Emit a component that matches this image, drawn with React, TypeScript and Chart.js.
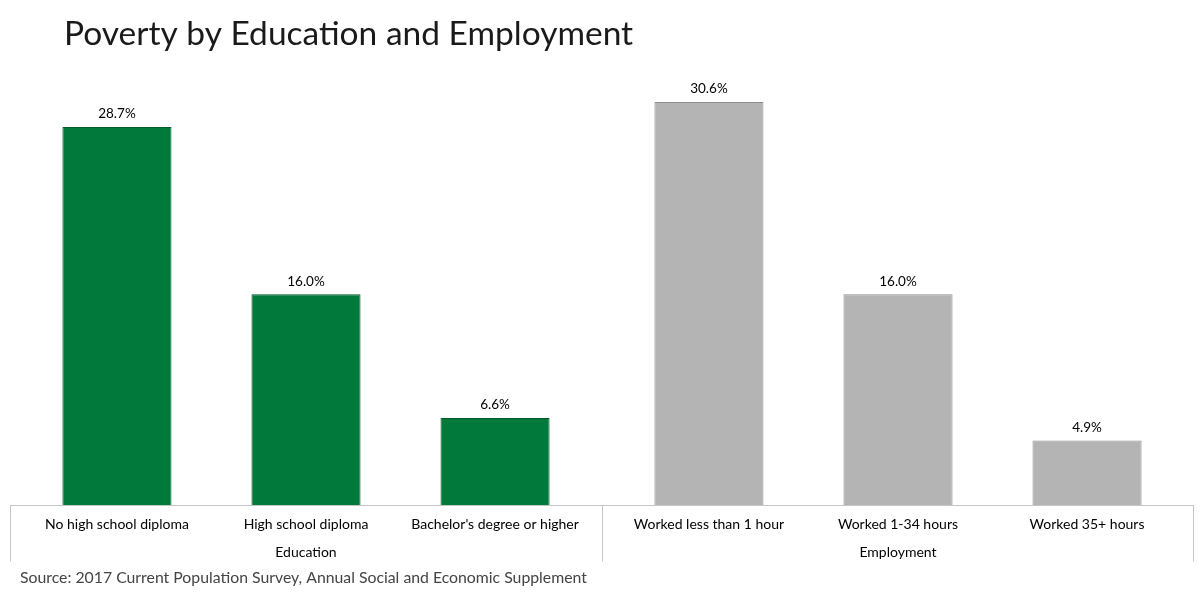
import React, { useEffect, useRef } from "react";
import { Chart, registerables } from "chart.js";

Chart.register(...registerables);

const TITLE = "Poverty by Education and Employment";
const SOURCE = "Source: 2017 Current Population Survey, Annual Social and Economic Supplement";
const groups = ["Education", "Employment"];
const educationLabels = ["No high school diploma", "High school diploma", "Bachelor's degree or higher"];
const employmentLabels = ["Worked less than 1 hour", "Worked 1-34 hours", "Worked 35+ hours"];
const educationValues = [28.7, 16.0, 6.6];
const employmentValues = [30.6, 16.0, 4.9];
const groupFills = ["#00793a", "#b4b4b4"];
const groupBorders = ["#005c2b", "#8f8f8f"];

const subLabels = [educationLabels, employmentLabels];
const subValues = [educationValues, employmentValues];

const FONT = "Lato, 'Open Sans', sans-serif";

const decorPlugin = {
  id: "decor",
  afterDraw(chart: any) {
    const { ctx, chartArea, scales } = chart;
    const x = scales.x;
    const y = scales.y;
    ctx.save();
    // frame
    ctx.strokeStyle = "#c6c6c6";
    ctx.lineWidth = 1;
    const base = Math.round(y.getPixelForValue(0)) + 0.5;
    const bottom = base + 56;
    ctx.beginPath();
    ctx.moveTo(chartArea.left, base);
    ctx.lineTo(chartArea.right, base);
    const seps: number[] = [chartArea.left + 0.5];
    for (let i = 1; i < groups.length; i++) {
      seps.push(Math.round((x.getPixelForTick(i - 1) + x.getPixelForTick(i)) / 2) + 0.5);
    }
    seps.push(chartArea.right - 0.5);
    seps.forEach((sx) => {
      ctx.moveTo(sx, base);
      ctx.lineTo(sx, bottom);
    });
    ctx.stroke();

    ctx.fillStyle = "#000";
    ctx.textAlign = "center";
    ctx.textBaseline = "middle";
    chart.data.datasets.forEach((ds: any, di: number) => {
      const meta = chart.getDatasetMeta(di);
      meta.data.forEach((bar: any, gi: number) => {
        // data label
        ctx.font = `13.5px ${FONT}`;
        ctx.fillText(subValues[gi][di].toFixed(1) + "%", bar.x, bar.y - 13);
        // sub-category label
        ctx.font = `14px ${FONT}`;
        ctx.fillText(subLabels[gi][di], bar.x, base + 19);
      });
    });

    // title
    ctx.textAlign = "left";
    ctx.fillStyle = "#1a1a1a";
    ctx.font = `33.5px ${FONT}`;
    ctx.fillText(TITLE, 64, 34);

    // source
    ctx.fillStyle = "#444";
    ctx.font = `15.8px ${FONT}`;
    ctx.fillText(SOURCE, 20, 578);
    ctx.restore();
  },
};

export default function App() {
  const ref = useRef<HTMLCanvasElement | null>(null);
  useEffect(() => {
    if (!ref.current) return;
    const datasets = educationLabels.map((_, j) => ({
      label: `${educationLabels[j]} / ${employmentLabels[j]}`,
      data: subValues.map((vals) => vals[j]),
      backgroundColor: groupFills,
      borderColor: groupBorders,
      borderWidth: 1,
      barPercentage: 0.577,
      categoryPercentage: 0.958,
    }));
    const chart = new Chart(ref.current, {
      type: "bar",
      data: { labels: groups, datasets },
      options: {
        animation: false,
        responsive: false,
        maintainAspectRatio: false,
        layout: { padding: { left: 10, right: 8, top: 44, bottom: 0 } },
        plugins: { legend: { display: false }, tooltip: { enabled: false }, title: { display: false } },
        scales: {
          y: { display: false, min: 0, max: 35 },
          x: {
            grid: { display: false },
            border: { display: false },
            ticks: {
              color: "#000",
              font: { family: FONT, size: 14 },
              padding: 31,
              maxRotation: 0,
              autoSkip: false,
            },
            afterFit: (scale: any) => {
              scale.height = 100;
            },
          },
        },
      },
      plugins: [decorPlugin],
    });
    return () => chart.destroy();
  }, []);
  return (
    <div style={{ position: "absolute", left: 0, top: 0, width: 1202, height: 605, background: "#fff" }}>
      <canvas ref={ref} width={1202} height={605} style={{ width: 1202, height: 605 }} />
    </div>
  );
}
